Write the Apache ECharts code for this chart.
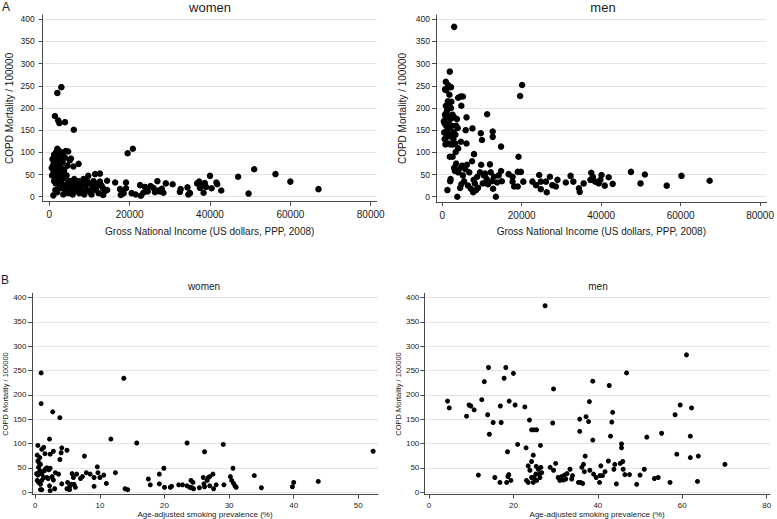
<!DOCTYPE html>
<html>
<head>
<meta charset="utf-8">
<title>COPD mortality vs income and smoking</title>
<script src="https://cdn.jsdelivr.net/npm/echarts@6/dist/echarts.min.js"></script>
<style>
  html, body { margin: 0; padding: 0; background: #fff; }
  #chart { width: 777px; height: 519px; }
</style>
</head>
<body>
<div id="chart"></div>
<script>
const incomeTicks = [0, 20000, 40000, 60000, 80000];
const mortalityTicks = [0, 50, 100, 150, 200, 250, 300, 350, 400];
const smokingTicksWomen = [0, 10, 20, 30, 40, 50];
const smokingTicksMen = [0, 20, 40, 60, 80];

// [GNI (US$ PPP 2008), COPD mortality per 100000]
const incomeWomen = [
  [3000, 247], [2000, 234], [1400, 182], [2200, 172], [2500, 166], [3900, 168], [6100, 151],
  [19500, 98], [20800, 108], [47000, 45], [51000, 62], [56300, 51], [60000, 34], [67000, 17], [49600, 7],
  [40000, 47], [41600, 32], [42800, 14], [37500, 20], [40400, 19], [38700, 31], [37300, 34], [38000, 26],
  [38400, 9], [34400, 21], [34600, 5], [32500, 11], [32700, 17], [30700, 28], [29000, 30], [28400, 9],
  [26900, 35], [27100, 14], [25900, 20], [25200, 24], [24200, 19], [22600, 26], [23400, 9], [22800, 2],
  [20500, 8], [19100, 19], [19100, 32], [17600, 17], [17800, 4], [16400, 32], [14400, 36], [14400, 15],
  [13400, 19], [12600, 52], [11400, 51], [12600, 34], [13400, 4], [10500, 5], [11800, 22], [9300, 38],
  [9700, 47], [8100, 32], [8500, 11], [7300, 74], [6000, 68], [5400, 86], [4700, 102], [4100, 103],
  [3500, 98], [24500, 12], [26300, 10], [36800, 30], [39000, 22], [18500, 8], [21500, 5], [28000, 18],
  [35000, 8], [41800, 28], [23800, 22], [27500, 12],
  [800, 85], [900, 70], [1000, 60], [1000, 50], [1100, 78], [1200, 95], [1300, 65], [1400, 45],
  [1500, 88], [1500, 55], [1600, 72], [1700, 100], [1800, 40], [1900, 62], [2000, 108], [2000, 82],
  [2100, 50], [2200, 68], [2300, 92], [2400, 58], [2500, 45], [2600, 75], [2700, 102], [2800, 85],
  [2900, 38], [3000, 65], [3100, 52], [3200, 95], [3300, 78], [3600, 42], [3700, 60], [3900, 88],
  [4300, 48], [4500, 70], [4900, 35], [5100, 82], [5600, 28], [6200, 40], [6800, 22], [600, 65],
  [700, 48], [1200, 35], [1600, 30],
  [1000, 3], [1500, 15], [2000, 10], [2500, 20], [3000, 30], [3500, 5], [3500, 18], [4000, 25],
  [4200, 12], [4500, 30], [4800, 8], [5000, 20], [5200, 15], [5500, 35], [5800, 5], [6000, 25],
  [6300, 12], [6600, 30], [7000, 18], [7200, 35], [7500, 8], [7800, 22], [8300, 12], [8500, 40],
  [8700, 5], [9000, 25], [9500, 15], [10000, 30], [10200, 10], [10800, 22], [11000, 35], [11600, 15],
  [12000, 30], [12300, 8], [13000, 25], [13800, 12]
];

const incomeMen = [
  [3000, 383], [1900, 282], [900, 259], [1500, 252], [2200, 247], [700, 242], [20100, 252], [19600, 227],
  [4600, 226], [5200, 226], [4000, 223], [2300, 214], [4800, 205], [6100, 179], [5900, 150], [7600, 154],
  [6100, 120], [11300, 186], [12700, 147], [12700, 135], [14800, 113], [9700, 143], [10000, 128],
  [4700, 124], [4000, 109], [3400, 101], [8000, 96], [19200, 90], [1900, 90], [2600, 90],
  [500, 145], [600, 165], [700, 185], [800, 175], [900, 205], [1000, 160], [1100, 135], [1200, 195],
  [1300, 150], [1400, 180], [1500, 120], [1600, 170], [1700, 140], [1800, 230], [1900, 155], [2000, 175],
  [2100, 118], [2200, 200], [2300, 135], [2500, 160], [2700, 118], [2900, 145], [3100, 178], [3300, 120],
  [3500, 160], [3700, 175], [3900, 155], [1000, 240], [1400, 215], [800, 118],
  [400, 170], [600, 130], [1100, 190], [1700, 210], [2600, 185], [2800, 130], [3300, 140], [1200, 168],
  [1300, 15], [2000, 35], [2100, 40], [3000, 65], [3200, 58], [3500, 75], [3800, 0], [4000, 55],
  [4200, 62], [4500, 20], [4800, 28], [5000, 70], [5200, 48], [5500, 35], [5800, 62], [6200, 72],
  [6500, 25], [6800, 55], [7200, 18], [7500, 80], [7800, 10], [7900, 38], [8200, 30], [8500, 15],
  [8800, 45], [9000, 20], [9500, 55], [9800, 72], [10200, 30], [10500, 48], [10800, 52], [11200, 40],
  [11500, 28], [12000, 73], [12200, 55], [12500, 35], [12800, 18], [13000, 45], [13500, 0], [13800, 32],
  [14200, 48], [14800, 58], [15000, 35],
  [16700, 51], [17700, 45], [17700, 34], [18100, 23], [19000, 23], [19000, 56], [19800, 56], [20400, 34],
  [22700, 34], [23600, 26], [24400, 49], [24800, 34], [24800, 17], [26100, 34], [26300, 10], [27100, 45],
  [27700, 26], [28600, 23], [29000, 38], [31100, 32], [32300, 47], [33000, 34], [34400, 19], [34600, 11],
  [35600, 30], [37300, 38], [37500, 54], [37900, 45], [38500, 34], [39400, 30], [39800, 38], [40100, 49],
  [40900, 25], [41900, 44], [42900, 29], [47500, 56], [49900, 30], [51000, 50], [56500, 25], [60200, 47],
  [67300, 36]
];

// [age-adjusted smoking prevalence (%), COPD mortality per 100000]
const smokingWomen = [
  [0.9, 245], [0.9, 182], [2.7, 165], [3.8, 153], [13.7, 234],
  [11.7, 109], [15.7, 101], [23.5, 101], [26.2, 83], [29.1, 98], [52.3, 84],
  [2.2, 109], [0.4, 96], [1.0, 88], [1.3, 92], [1.5, 79], [2.3, 78], [2.8, 84], [4.1, 91],
  [4.0, 81], [4.9, 86], [3.8, 67], [7.6, 74],
  [19.9, 49], [19.2, 37], [17.5, 27], [17.8, 15], [19.2, 17], [20.0, 10], [20.9, 10], [21.1, 12],
  [22.2, 15], [22.8, 15], [23.5, 13], [23.9, 10], [24.1, 24], [24.4, 20], [24.2, 9], [24.5, 7],
  [25.4, 9], [26.0, 30], [26.1, 17], [26.6, 24], [26.8, 30], [27.0, 32], [27.5, 37], [27.0, 13],
  [27.6, 7], [28.0, 15], [26.2, 11], [29.2, 15], [30.2, 32], [30.4, 24], [30.6, 49], [30.7, 18],
  [30.9, 13], [31.1, 10], [33.9, 34], [35.0, 9], [39.8, 11], [40.0, 20], [43.8, 22],
  [9.6, 52], [9.7, 40], [10.0, 30], [10.6, 35], [11.0, 18], [12.4, 40], [9.1, 30], [9.1, 12],
  [8.5, 37], [7.9, 40], [7.0, 28], [7.3, 32], [6.4, 37], [6.0, 16], [5.7, 38], [5.9, 30],
  [5.6, 16], [5.3, 11], [6.2, 10], [5.0, 20], [4.9, 7], [5.3, 5], [4.1, 17], [3.6, 37],
  [3.1, 40], [2.8, 25], [2.6, 32], [2.3, 49], [2.1, 46], [1.8, 50], [1.4, 44], [2.2, 13],
  [2.3, 3], [3.0, 7], [1.0, 5], [0.8, 5], [0.4, 35], [0.3, 24], [0.5, 20], [0.8, 16],
  [1.0, 24], [0.3, 76], [0.4, 64], [0.7, 71], [0.8, 57], [0.5, 51], [0.7, 44], [1.0, 37],
  [1.3, 30], [1.8, 30], [13.9, 7], [14.3, 5], [0.2, 38], [0.6, 60], [1.6, 48], [2.0, 28]
];

const smokingMen = [
  [27.5, 383], [61.0, 282], [46.8, 245], [14.1, 256], [18.2, 256], [13.1, 227], [17.8, 234], [20.0, 244],
  [29.5, 212], [38.8, 228], [42.7, 219],
  [4.4, 187], [4.8, 173], [8.9, 156], [9.5, 179], [9.9, 177], [10.7, 169], [12.5, 190], [13.9, 159],
  [14.3, 119], [15.2, 143], [16.9, 177], [17.1, 143], [18.6, 83], [19.0, 187], [20.4, 179], [22.7, 175],
  [23.0, 91], [23.8, 148], [24.3, 128], [24.9, 128], [25.5, 128], [24.7, 76], [26.4, 96], [29.3, 142],
  [21.0, 98],
  [35.7, 150], [35.7, 125], [37.2, 155], [38.0, 186], [37.8, 145], [38.8, 107], [43.0, 115], [43.3, 144],
  [43.5, 164], [45.6, 99], [45.6, 91], [58.3, 159], [59.5, 179], [62.2, 173], [61.9, 115], [55.1, 121],
  [51.6, 113], [58.7, 78], [61.9, 71], [63.8, 74], [70.1, 57],
  [11.7, 35], [15.6, 30], [16.8, 20], [18.7, 32], [18.9, 36], [19.4, 24], [23.1, 24], [23.5, 54],
  [23.9, 45], [24.3, 63], [24.3, 30], [24.7, 20], [24.9, 30], [25.3, 37], [25.4, 53], [25.5, 24],
  [25.9, 47], [26.1, 37], [26.3, 30], [26.5, 51], [26.7, 40], [23.5, 20], [28.7, 51], [29.5, 45],
  [30.0, 59], [30.6, 30], [31.0, 24], [31.4, 32], [31.8, 25], [32.1, 35], [32.4, 27], [32.7, 38],
  [33.4, 47], [33.8, 27], [34.0, 34], [35.4, 20], [35.9, 20], [36.4, 18], [36.2, 51], [36.6, 57],
  [37.0, 74], [36.8, 42], [38.1, 45], [39.0, 37], [39.6, 30], [40.5, 34], [40.7, 54], [40.4, 20],
  [41.1, 34], [41.7, 42], [42.5, 64], [43.8, 47], [44.0, 57], [44.4, 17], [45.3, 59], [45.9, 63],
  [46.0, 47], [46.4, 36], [47.5, 36], [50.0, 35], [51.0, 47], [53.4, 28], [54.3, 30], [49.2, 16],
  [57.1, 20], [63.6, 22], [18.4, 20]
];

const panels = [
  { // A, women
    grid: { left: 42.7, top: 15, width: 334, height: 186.7 },
    x: { min: -1643, max: 81494, ticks: incomeTicks, name: 'Gross National Income (US dollars, PPP, 2008)' },
    y: { min: -11.3, max: 409.7 },
    data: incomeWomen, size: 6.5, big: true, yLabelMargin: 8, yNameGap: 28
  },
  { // A, men
    grid: { left: 436, top: 15, width: 333.3, height: 187 },
    x: { min: -1573, max: 81648, ticks: incomeTicks, name: 'Gross National Income (US dollars, PPP, 2008)' },
    y: { min: -11.9, max: 409.7 },
    data: incomeMen, size: 6.5, big: true, yLabelMargin: 6, yNameGap: 29
  },
  { // B, women
    grid: { left: 31.7, top: 293.3, width: 346.3, height: 204.2 },
    x: { min: -0.51, max: 53.05, ticks: smokingTicksWomen, name: 'Age-adjusted smoking prevalence (%)' },
    y: { min: -5.06, max: 408.5 },
    data: smokingWomen, size: 5, big: false, yLabelMargin: 5.5, yNameGap: 23
  },
  { // B, men
    grid: { left: 424.3, top: 293.3, width: 345.7, height: 204.2 },
    x: { min: -1.11, max: 80.78, ticks: smokingTicksMen, name: 'Age-adjusted smoking prevalence (%)' },
    y: { min: -5.06, max: 408.5 },
    data: smokingMen, size: 5, big: false, yLabelMargin: 5, yNameGap: 21
  }
];

const axisColor = '#4a4a4a';
const textColor = '#1a1a1a';
const plain = (v) => String(v);

function buildOption() {
  const grid = [], xAxis = [], yAxis = [], series = [];
  panels.forEach((p, i) => {
    grid.push(Object.assign({ containLabel: false }, p.grid));
    xAxis.push({
      type: 'value', gridIndex: i, min: p.x.min, max: p.x.max,
      name: p.x.name, nameLocation: 'middle', nameGap: p.big ? 24.5 : 12.5,
      nameTextStyle: { fontSize: p.big ? 10 : 8, color: textColor, fontFamily: 'Liberation Sans' },
      axisLine: { show: true, onZero: false, lineStyle: { color: axisColor, width: 1 } },
      axisTick: { show: true, length: 4, customValues: p.x.ticks, lineStyle: { color: axisColor } },
      axisLabel: {
        customValues: p.x.ticks, formatter: plain, fontSize: p.big ? 10 : 8, margin: p.big ? 8 : 6.5,
        color: textColor, fontFamily: 'Liberation Sans'
      },
      splitLine: { show: false }
    });
    yAxis.push({
      type: 'value', gridIndex: i, min: p.y.min, max: p.y.max,
      name: 'COPD Mortality / 100000', nameLocation: 'middle', nameGap: p.yNameGap,
      nameTextStyle: { fontSize: p.big ? 10 : 7.5, color: textColor, fontFamily: 'Liberation Sans' },
      axisLine: { show: true, onZero: false, lineStyle: { color: axisColor, width: 1 } },
      axisTick: { show: true, length: 4, customValues: mortalityTicks, lineStyle: { color: axisColor } },
      axisLabel: {
        customValues: mortalityTicks, formatter: plain, fontSize: p.big ? 8.5 : 8, margin: p.yLabelMargin,
        color: textColor, fontFamily: 'Liberation Sans'
      },
      splitLine: { show: true, lineStyle: { color: '#e4e4e4', width: 1 } }
    });
    series.push({
      type: 'scatter', xAxisIndex: i, yAxisIndex: i,
      data: p.data, symbol: 'circle', symbolSize: p.size,
      itemStyle: { color: '#000', opacity: 1 }, silent: true
    });
  });

  const label = (text, x, y, size) => ({
    type: 'text', x: x, y: y,
    style: {
      text: text, fill: textColor, align: 'center', verticalAlign: 'middle',
      font: size + 'px "Liberation Sans", Arial, sans-serif'
    }
  });

  return {
    animation: false,
    backgroundColor: '#fff',
    grid, xAxis, yAxis, series,
    graphic: [
      label('A', 6, 7, 12),
      label('women', 210, 7, 13),
      label('men', 603, 7, 13),
      label('B', 5, 280, 12),
      label('women', 204, 286, 10),
      label('men', 598, 286, 10)
    ]
  };
}

const chart = echarts.init(document.getElementById('chart'), null, { renderer: 'svg' });
chart.setOption(buildOption());
</script>
</body>
</html>
